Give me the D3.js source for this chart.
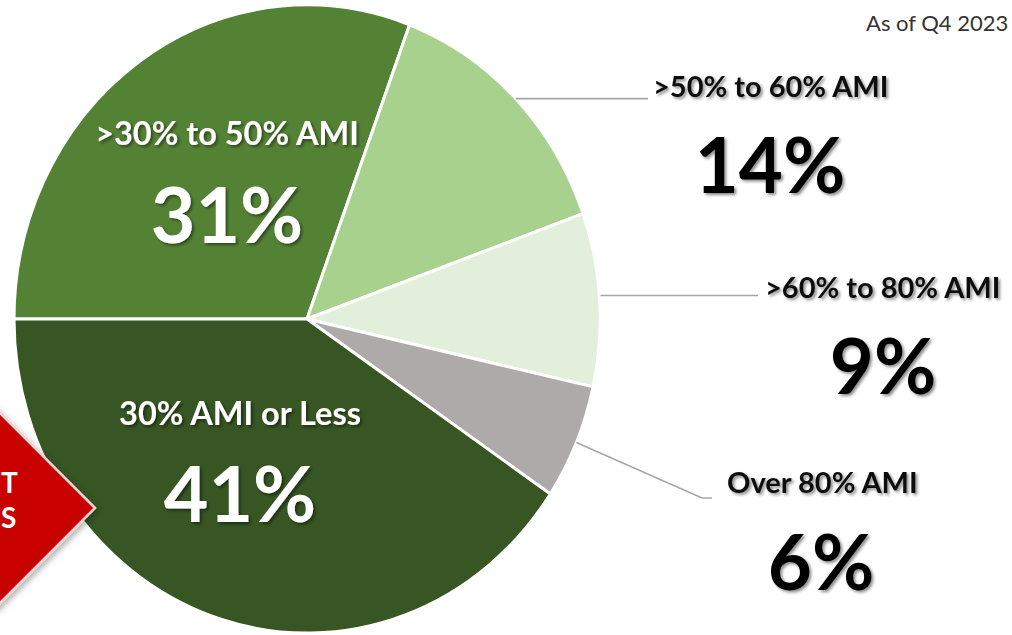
<!DOCTYPE html>
<html>
<head>
<meta charset="utf-8">
<script src="https://cdn.jsdelivr.net/npm/d3@7"></script>
<style>
  html, body { margin: 0; padding: 0; background: #ffffff; overflow: hidden; }
  svg { display: block; }
</style>
</head>
<body>
<svg id="chart" width="1012" height="635"></svg>
<script>
// Share of units by household income band (% of Area Median Income)
const categories = [">30% to 50% AMI", ">50% to 60% AMI", ">60% to 80% AMI", "Over 80% AMI", "30% AMI or Less"];
const shares = [31, 14, 9, 6, 41];
const sliceColors = ["#548235", "#A9D18E", "#E2EFDA", "#AEAAAA", "#375623"];
const dateNote = "As of Q4 2023";
const badgeLetters = ["T", "S"];

const W = 1012, H = 635;
const cx = 307, cy = 319, R = 293, squash = 1.072;

const svg = d3.select("#chart");
const defs = svg.append("defs");

const shadow = defs.append("filter").attr("id", "txtShadow")
  .attr("x", "-10%").attr("y", "-10%").attr("width", "130%").attr("height", "140%");
shadow.append("feDropShadow").attr("dx", 2).attr("dy", 2)
  .attr("stdDeviation", 1.8).attr("flood-color", "#000").attr("flood-opacity", 0.45);

const boxShadow = defs.append("filter").attr("id", "boxShadow")
  .attr("x", "-20%").attr("y", "-20%").attr("width", "150%").attr("height", "150%");
boxShadow.append("feDropShadow").attr("dx", 2).attr("dy", 3)
  .attr("stdDeviation", 3).attr("flood-color", "#000").attr("flood-opacity", 0.3);

const pie = d3.pie().sort(null).value(d => d).startAngle(-Math.PI / 2).endAngle(1.5 * Math.PI);
const arcs = pie(shares);
const arc = d3.arc().innerRadius(0).outerRadius(R);

// Pie, slightly taller than wide
const pieG = svg.append("g")
  .attr("transform", `translate(${cx},${cy}) scale(1,${squash})`);
pieG.selectAll("path.slice")
  .data(arcs)
  .join("path")
  .attr("class", "slice")
  .attr("d", arc)
  .attr("fill", (d, i) => sliceColors[i])
  .attr("stroke", "#ffffff")
  .attr("stroke-width", 3)
  .attr("vector-effect", "non-scaling-stroke")
  .attr("stroke-linejoin", "round");

// Point on the rim at a slice's mid angle, in page coordinates
function rimPoint(d) {
  const a = (d.startAngle + d.endAngle) / 2;
  return [cx + R * Math.sin(a), cy - R * Math.cos(a) * squash];
}

const font = "Lato, 'Open Sans', sans-serif";

// Labels inside the two large slices
const innerLabels = [
  { i: 0, x: 227, yName: 145, yPct: 243 },
  { i: 4, x: 240, yName: 425, yPct: 522 }
];
innerLabels.forEach(l => {
  svg.append("text")
    .attr("x", l.x).attr("y", l.yName)
    .attr("text-anchor", "middle")
    .attr("font-family", font).attr("font-weight", 700)
    .attr("font-size", 32.5).attr("fill", "#ffffff")
    .attr("filter", "url(#txtShadow)")
    .text(categories[l.i]);
  svg.append("text")
    .attr("x", l.x).attr("y", l.yPct)
    .attr("text-anchor", "middle")
    .attr("font-family", font).attr("font-weight", 700)
    .attr("font-size", 77).attr("fill", "#ffffff")
    .attr("filter", "url(#txtShadow)")
    .text(shares[l.i] + "%");
});

// Callout labels for the three small slices
const outerLabels = [
  { i: 1, nameX: 653, nameY: 97, pctX: 770, pctY: 193, path: (p) => [p, [648, p[1]]] },
  { i: 2, nameX: 765, nameY: 298, pctX: 883, pctY: 394, path: (p) => [[p[0] + 1, p[1] - 4], [758, p[1] - 4]] },
  { i: 3, nameX: 727, nameY: 493, pctX: 821, pctY: 590, path: (p) => [p, [702, 498], [712, 498]] }
];
const line = d3.line();
outerLabels.forEach(l => {
  const p = rimPoint(arcs[l.i]);
  svg.append("path")
    .attr("d", line(l.path(p)))
    .attr("fill", "none")
    .attr("stroke", "#A6A6A6")
    .attr("stroke-width", 1.6);
  svg.append("text")
    .attr("x", l.nameX).attr("y", l.nameY)
    .attr("font-family", font).attr("font-weight", 700)
    .attr("font-size", 29).attr("fill", "#111111")
    .attr("filter", "url(#txtShadow)")
    .text(categories[l.i]);
  svg.append("text")
    .attr("x", l.pctX).attr("y", l.pctY)
    .attr("text-anchor", "middle")
    .attr("font-family", font).attr("font-weight", 700)
    .attr("font-size", 76).attr("fill", "#000000")
    .attr("filter", "url(#txtShadow)")
    .text(shares[l.i] + "%");
});

// Red badge at the left edge
const badge = svg.append("g").attr("filter", "url(#boxShadow)");
badge.append("polygon")
  .attr("points", [[95, 508], [-5, 408], [-105, 508], [-5, 608]].map(p => p.join(",")).join(" "))
  .attr("fill", "#C80000")
  .attr("stroke", "#F6D3D3")
  .attr("stroke-width", 2.5);
badgeLetters.forEach((w, k) => {
  svg.append("text")
    .attr("x", 1).attr("y", 493 + k * 35)
    .attr("font-family", font).attr("font-weight", 700)
    .attr("font-size", 28).attr("fill", "#ffffff")
    .text(w);
});

// Date note, top right
svg.append("text")
  .attr("x", 866).attr("y", 31)
  .attr("font-family", font)
  .attr("font-size", 22).attr("fill", "#333333")
  .text(dateNote);
</script>
</body>
</html>
